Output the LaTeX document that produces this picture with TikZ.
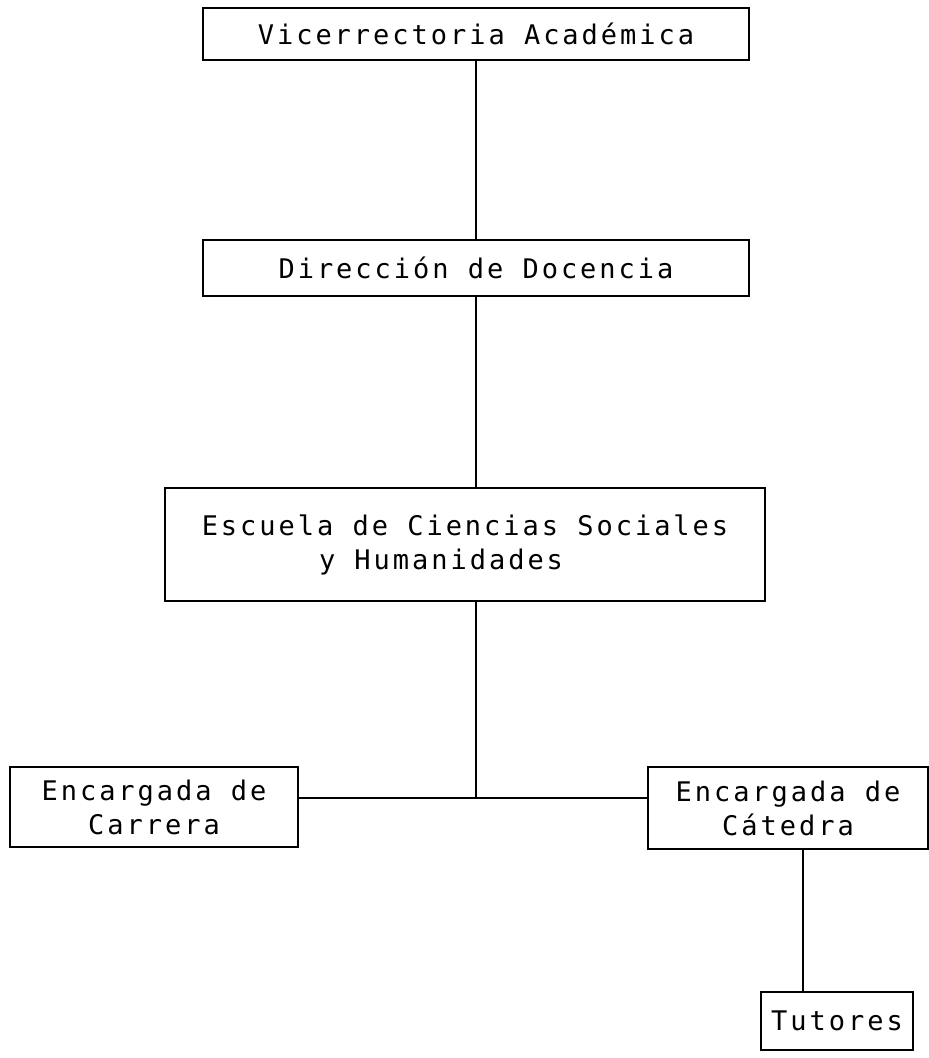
\documentclass[tikz,border=0pt]{standalone}
\usepackage{fontspec}
\newfontfamily\plotfont[LetterSpace=11]{DejaVu Sans Mono}
\begin{document}
\begin{tikzpicture}[x=1pt,y=-1pt,
  orgbox/.style={draw=black, line width=1.2pt, inner sep=0pt, align=center,
    font=\plotfont\fontsize{27}{34}\selectfont},
  link/.style={draw=black, line width=1.2pt}]
\useasboundingbox (0,0) rectangle (929,1058);
\node[orgbox, minimum width=546pt, minimum height=52pt] (b1) at (476,34) {Vicerrectoria Académica};
\node[orgbox, minimum width=546pt, minimum height=56pt] (b2) at (476,268) {Dirección de Docencia};
\node[orgbox, minimum width=600pt, minimum height=113pt] (b3) at (465,544.5) {Escuela de Ciencias Sociales\\y Humanidades\kern48pt};
\node[orgbox, minimum width=288pt, minimum height=80pt] (b4) at (154,807) {Encargada de\\Carrera};
\node[orgbox, minimum width=280pt, minimum height=82pt] (b5) at (788,808) {Encargada de\\Cátedra};
\node[orgbox, minimum width=152pt, minimum height=58pt] (b6) at (837,1021) {Tutores};
\coordinate (j) at (476,798);
\coordinate (k) at (803,920);
\draw[link] (b1.south) -- (b2.north);
\draw[link] (b2.south) -- (b3.north -| b2.south);
\draw[link] (b3.south -| j) -- (j);
\draw[link] (b4.east |- j) -- (b5.west |- j);
\draw[link] (b5.south -| k) -- (b6.north -| k);
\end{tikzpicture}
\end{document}
